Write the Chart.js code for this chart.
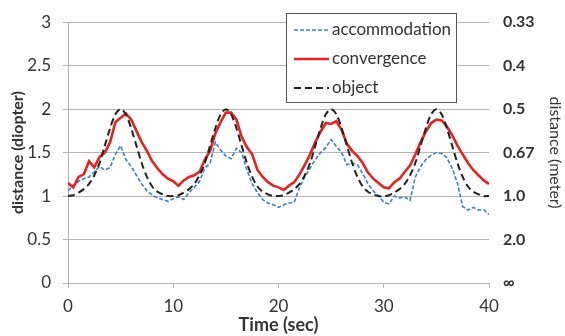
<!DOCTYPE html>
<html>
<head>
<meta charset="utf-8">
<script src="https://cdn.jsdelivr.net/npm/chart.js@4.4.1/dist/chart.umd.min.js"></script>
<style>
  html, body { margin: 0; padding: 0; background: #fff; }
  #wrap { width: 565px; height: 336px; position: relative; }
</style>
</head>
<body>
<div id="wrap"><canvas id="chart" width="565" height="336"></canvas></div>
<script>
// sample times (sec), every 0.5 s from 0 to 40
const step = 0.5;
const accommodation = [
    1.06, 1.12, 1.17, 1.20, 1.22, 1.28, 1.34, 1.30, 1.33, 1.48,
    1.58, 1.42, 1.34, 1.24, 1.14, 1.06, 1.01, 0.98, 0.96, 0.94,
    0.97, 0.99, 0.96, 1.04, 1.10, 1.17, 1.32, 1.38, 1.62, 1.53,
    1.46, 1.43, 1.55, 1.50, 1.30, 1.14, 1.04, 0.96, 0.92, 0.90,
    0.87, 0.90, 0.92, 0.93, 1.10, 1.22, 1.32, 1.42, 1.50, 1.56,
    1.65, 1.57, 1.50, 1.36, 1.38, 1.36, 1.26, 1.14, 1.06, 1.00,
    0.93, 0.91, 1.00, 0.98, 0.99, 0.95, 1.22, 1.34, 1.42, 1.47,
    1.50, 1.49, 1.44, 1.32, 1.15, 0.88, 0.84, 0.87, 0.84, 0.84,
    0.79
];
const convergence = [
    1.15, 1.10, 1.22, 1.25, 1.40, 1.33, 1.45, 1.50, 1.62, 1.85,
    1.90, 1.95, 1.88, 1.75, 1.62, 1.52, 1.40, 1.32, 1.25, 1.20,
    1.17, 1.12, 1.18, 1.22, 1.24, 1.28, 1.42, 1.52, 1.72, 1.85,
    1.96, 1.96, 1.88, 1.68, 1.56, 1.48, 1.30, 1.22, 1.16, 1.12,
    1.10, 1.07, 1.12, 1.16, 1.25, 1.36, 1.48, 1.62, 1.74, 1.84,
    1.83, 1.86, 1.76, 1.60, 1.52, 1.46, 1.38, 1.27, 1.20, 1.15,
    1.10, 1.09, 1.16, 1.20, 1.28, 1.35, 1.48, 1.62, 1.74, 1.84,
    1.88, 1.87, 1.80, 1.70, 1.58, 1.48, 1.38, 1.30, 1.24, 1.18,
    1.14
];
const object = [
    1.00, 1.01, 1.04, 1.08, 1.14, 1.24, 1.38, 1.58, 1.78, 1.94,
    2.00, 1.94, 1.78, 1.58, 1.38, 1.22, 1.11, 1.05, 1.02, 1.00,
    1.00, 1.01, 1.04, 1.08, 1.14, 1.24, 1.38, 1.58, 1.78, 1.94,
    2.00, 1.94, 1.78, 1.58, 1.38, 1.22, 1.11, 1.05, 1.02, 1.00,
    1.00, 1.01, 1.04, 1.08, 1.14, 1.24, 1.38, 1.58, 1.78, 1.94,
    2.00, 1.94, 1.78, 1.58, 1.38, 1.22, 1.11, 1.05, 1.02, 1.00,
    1.00, 1.01, 1.04, 1.08, 1.14, 1.24, 1.38, 1.58, 1.78, 1.94,
    2.00, 1.94, 1.78, 1.58, 1.38, 1.22, 1.11, 1.05, 1.02, 1.00,
    1.00
];
// right axis: diopter value -> distance in meters
const diopterTicks = [0, 0.5, 1, 1.5, 2, 2.5, 3];
const meterLabels = ['\u221E', '2.0', '1.0', '0.67', '0.5', '0.4', '0.33'];

const FONT = 'Lato, "Open Sans", sans-serif';
const TXT = '#333';
const GRID = '#b4b4b4';

const toPoints = arr => arr.map((v, i) => ({ x: i * step, y: v }));

// legend drawn inside the plot like the original
const boxLegend = {
    id: 'boxLegend',
    afterDraw(chart) {
        const c = chart.ctx;
        const x0 = 286, y0 = 13, w = 170, h = 89;
        c.save();
        c.fillStyle = '#fff';
        c.fillRect(x0, y0, w, h);
        c.strokeStyle = '#555';
        c.lineWidth = 1;
        c.strokeRect(x0 + 0.5, y0 + 0.5, w, h);
        c.font = '17px ' + FONT;
        c.textBaseline = 'middle';
        chart.data.datasets.forEach((ds, i) => {
            const y = y0 + 17 + i * 29;
            c.beginPath();
            c.setLineDash(ds.borderDash || []);
            c.strokeStyle = ds.borderColor;
            c.lineWidth = ds.borderWidth;
            c.moveTo(x0 + 8, y);
            c.lineTo(x0 + 43, y);
            c.stroke();
            c.setLineDash([]);
            c.fillStyle = TXT;
            c.fillText(ds.label, x0 + 46, y);
        });
        c.restore();
    }
};

new Chart(document.getElementById('chart'), {
    type: 'line',
    data: {
        datasets: [{
            label: 'accommodation',
            data: toPoints(accommodation),
            borderColor: '#3b82c4',
            borderWidth: 1.6,
            borderDash: [4, 2],
            pointRadius: 0,
            tension: 0,
            order: 3
        }, {
            label: 'convergence',
            data: toPoints(convergence),
            borderColor: '#e8231f',
            borderWidth: 2.6,
            pointRadius: 0,
            tension: 0,
            order: 2
        }, {
            label: 'object',
            data: toPoints(object),
            borderColor: '#222',
            borderWidth: 2,
            borderDash: [7, 4],
            pointRadius: 0,
            tension: 0.3,
            order: 1
        }]
    },
    options: {
        responsive: false,
        animation: false,
        maintainAspectRatio: false,
        layout: { padding: { top: 20, left: 0, right: 0, bottom: 0 } },
        plugins: {
            legend: { display: false },
            tooltip: { enabled: false }
        },
        scales: {
            x: {
                type: 'linear',
                min: 0,
                max: 40,
                ticks: { stepSize: 10, color: TXT, font: { family: FONT, size: 17 }, padding: 8 },
                grid: { drawOnChartArea: false, color: GRID, tickLength: 5 },
                border: { color: GRID },
                title: {
                    display: true,
                    text: 'Time (sec)',
                    color: TXT,
                    font: { family: FONT, size: 18, weight: 'bold' },
                    padding: { top: 0, bottom: 0 }
                },
                afterFit(scale) { scale.height = 53; }
            },
            y: {
                min: 0,
                max: 3,
                ticks: {
                    stepSize: 0.5,
                    autoSkip: false,
                    color: TXT,
                    font: { family: FONT, size: 17 },
                    padding: 12,
                    callback: v => String(v)
                },
                grid: { color: GRID, tickLength: 5 },
                border: { color: GRID },
                title: {
                    display: true,
                    text: 'distance (diopter)',
                    color: TXT,
                    font: { family: FONT, size: 16, weight: 'bold' },
                    padding: { top: 8, bottom: 0 }
                },
                afterFit(scale) { scale.width = 68; }
            },
            y2: {
                position: 'right',
                min: 0,
                max: 3,
                afterBuildTicks(scale) {
                    scale.ticks = diopterTicks.map(v => ({ value: v }));
                },
                ticks: {
                    autoSkip: false,
                    color: TXT,
                    font: { family: FONT, size: 16, weight: 'bold' },
                    padding: 6,
                    callback: (v) => meterLabels[diopterTicks.indexOf(v)]
                },
                grid: { display: false },
                border: { display: false },
                title: {
                    display: true,
                    text: 'distance (meter)',
                    color: TXT,
                    font: { family: FONT, size: 16 },
                    padding: { top: 0, bottom: 2 }
                },
                afterFit(scale) { scale.width = 76; }
            }
        }
    },
    plugins: [boxLegend]
});
</script>
</body>
</html>
